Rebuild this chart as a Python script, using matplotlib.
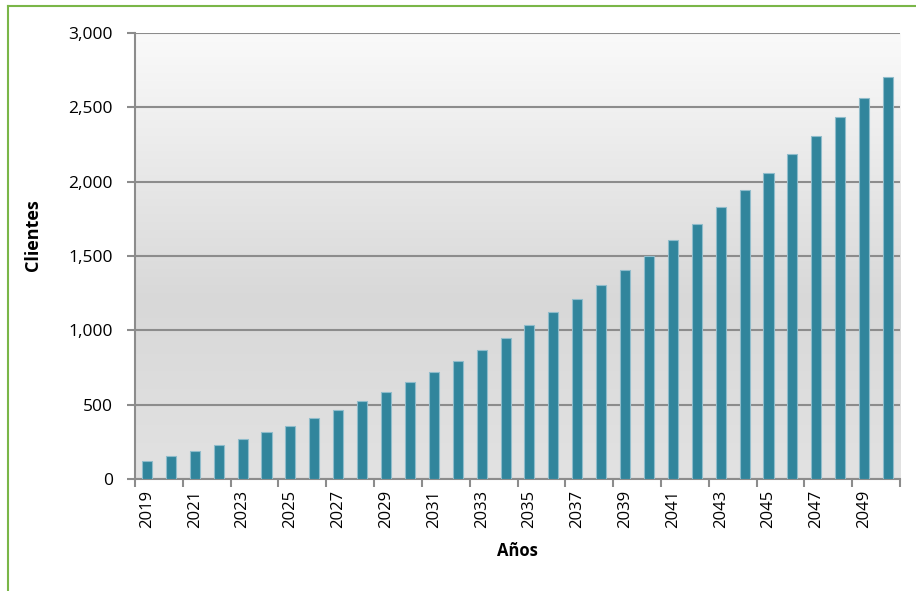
import numpy as np
import matplotlib.pyplot as plt
from matplotlib.lines import Line2D
from matplotlib.colors import LinearSegmentedColormap

# datos
years = list(range(2019, 2051))
clientes = [121, 155, 188, 229, 269, 316, 357, 410, 464, 525, 585, 653, 720, 794,
            868, 948, 1036, 1123, 1211, 1305, 1406, 1500, 1608, 1715, 1830, 1944,
            2058, 2186, 2307, 2435, 2563, 2704]
y_ticks = [0, 500, 1000, 1500, 2000, 2500, 3000]

plt.rcParams["font.family"] = ["Open Sans", "DejaVu Sans"]

fig = plt.figure(figsize=(9.16, 5.91), dpi=100)
ax = fig.add_axes([135 / 916, 1 - 479 / 591, 765 / 916, 446 / 591])

# fondo degradado
grad = LinearSegmentedColormap.from_list(
    "bg", [(0.0, "#e2e2e2"), (0.4, "#d8d8d8"), (1.0, "#fafafa")])
ax.imshow(np.linspace(0, 1, 256).reshape(-1, 1), cmap=grad, origin="lower",
          extent=[0, 1, 0, 1], transform=ax.transAxes, aspect="auto", zorder=0)

x = np.arange(len(years))
ax.bar(x, clientes, width=0.42, color="#31859c", edgecolor="#8fbccb",
       linewidth=0.8, zorder=3)

ax.set_xlim(-0.5, len(years) - 0.5)
ax.set_ylim(0, 3000)
ax.set_yticks(y_ticks)
ax.set_yticklabels([f"{v:,}" for v in y_ticks], fontsize=12.5)
ax.yaxis.grid(True, color="#8c8c8c", linewidth=1.5, zorder=1)
ax.set_axisbelow(True)

ax.set_xticks(x[::2])
ax.set_xticklabels([str(y) for y in years[::2]], rotation=90, fontsize=12)
ax.tick_params(axis="x", length=0, pad=8)
ax.set_xticks(np.arange(-0.5, len(years), 2), minor=True)
ax.tick_params(axis="x", which="minor", length=6, width=1.5, color="#8c8c8c")
ax.tick_params(axis="y", length=6, width=1.5, color="#8c8c8c", pad=10)

for s in ["top", "right"]:
    ax.spines[s].set_visible(False)
for s in ["left", "bottom"]:
    ax.spines[s].set_color("#8c8c8c")
    ax.spines[s].set_linewidth(1.5)

ax.set_xlabel("Años", fontsize=12, fontweight="bold", labelpad=10)
ax.set_ylabel("Clientes", fontsize=13, fontweight="bold")
ax.yaxis.set_label_coords(-0.121, 0.547)

# borde verde
fig.add_artist(Line2D([8 / 916, 8 / 916], [0, 1 - 6 / 591], color="#7ab648",
                      linewidth=1.5, transform=fig.transFigure))
fig.add_artist(Line2D([8 / 916, 1], [1 - 6 / 591, 1 - 6 / 591], color="#7ab648",
                      linewidth=1.5, transform=fig.transFigure))

fig.savefig("out.png", dpi=100, facecolor="white")
